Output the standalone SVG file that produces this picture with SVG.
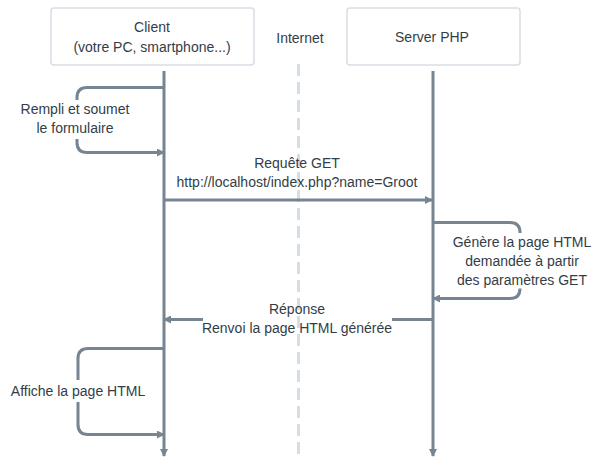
<svg xmlns="http://www.w3.org/2000/svg" width="605" height="468" viewBox="0 0 605 468">
<style>
text{font-family:"Liberation Sans",Arial,sans-serif;font-size:14px;fill:#333d47;text-anchor:middle}
.box{fill:#ffffff;stroke:#d6dee6;stroke-width:1.5}
.life{stroke:#778593;stroke-width:3;fill:none}
.msg{stroke:#778593;stroke-width:3;fill:none}
.net{stroke:#d3dee8;stroke-width:3;stroke-dasharray:12 6;fill:none}
</style>
<defs>
<marker id="ah" viewBox="0 0 8 8" refX="7" refY="4" markerWidth="8" markerHeight="8" markerUnits="userSpaceOnUse" orient="auto">
<path d="M0,0 L8,4 L0,8 z" fill="#778593"/>
</marker>
</defs>
<rect width="605" height="468" fill="#ffffff"/>
<g id="internet">
<line class="net" x1="298.5" y1="64" x2="298.5" y2="458"/>
<text x="300" y="43">Internet</text>
</g>
<g id="client">
<rect class="box" x="51" y="8" width="203" height="57" rx="3"/>
<text x="152" y="32">Client</text>
<text x="152" y="52">(votre PC, smartphone...)</text>
</g>
<g id="server">
<rect class="box" x="347" y="8" width="173" height="57" rx="3"/>
<text x="432" y="42">Server PHP</text>
</g>
<g id="connectors">
<line class="life" x1="164" y1="71" x2="164" y2="456" marker-end="url(#ah)"/>
<line class="life" x1="433" y1="71" x2="433" y2="456" marker-end="url(#ah)"/>
<path class="msg" d="M164,87.5 H87 Q77,87.5 77,97.5 V100"/>
<path class="msg" d="M77,139 V142.5 Q77,152.5 87,152.5 H164" marker-end="url(#ah)"/>
<line class="msg" x1="164" y1="200" x2="432" y2="200" marker-end="url(#ah)"/>
<path class="msg" d="M433,222.5 H510 Q520,222.5 520,232.5 V233"/>
<path class="msg" d="M520,289 V288.5 Q520,298.5 510,298.5 H433" marker-end="url(#ah)"/>
<line class="msg" x1="433" y1="319.5" x2="392" y2="319.5"/>
<line class="msg" x1="203" y1="319.5" x2="164" y2="319.5" marker-end="url(#ah)"/>
<path class="msg" d="M164,348.5 H88 Q78,348.5 78,358.5 V380"/>
<path class="msg" d="M78,402 V424.5 Q78,434.5 88,434.5 H164" marker-end="url(#ah)"/>
</g>
<g id="labels">
<text x="75" y="114">Rempli et soumet</text>
<text x="75" y="133">le formulaire</text>
<text x="297" y="168">Requête GET</text>
<text x="297" y="187">http://localhost/index.php?name=Groot</text>
<text x="522" y="247">Génère la page HTML</text>
<text x="522" y="266">demandée à partir</text>
<text x="522" y="285">des paramètres GET</text>
<text x="297" y="314">Réponse</text>
<text x="297" y="333">Renvoi la page HTML générée</text>
<text x="78" y="396">Affiche la page HTML</text>
</g>
</svg>
